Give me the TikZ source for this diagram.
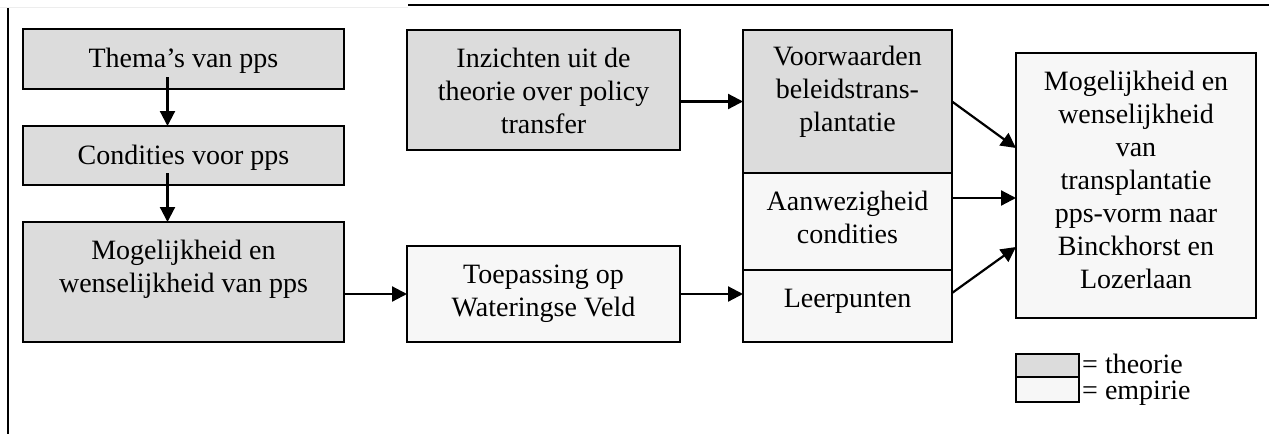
\documentclass[tikz,border=0pt]{standalone}
\usepackage{fontspec}
\setmainfont{Liberation Serif}
\usetikzlibrary{arrows.meta,calc}
\definecolor{theo}{HTML}{DCDCDC}
\definecolor{emp}{HTML}{F7F7F7}
\begin{document}
\begin{tikzpicture}[x=1pt,y=-1pt,
  box/.style={draw=black, line width=2.2pt, inner sep=0pt, outer sep=0pt, anchor=north west},
  gbox/.style={box, fill=theo},
  lbox/.style={box, fill=emp},
  txt/.style={font=\fontsize{28}{33}\selectfont, align=center, anchor=north, inner sep=0pt},
  arr/.style={line width=2.2pt, -{Triangle[length=15pt,width=15pt]}},
  frame/.style={line width=2.2pt}]
\useasboundingbox (0,0) rectangle (1269,434);
% frame lines
\draw[frame] (8,7) -- (8,434);
\draw[frame] (408,5) -- (1269,5);
\draw[line width=1pt, color=black!7] (0,7) -- (408,7);
% boxes
\node[gbox, minimum width=321pt, minimum height=60pt] (b1) at (23,29) {};
\node[gbox, minimum width=321pt, minimum height=59pt] (b2) at (23,126) {};
\node[gbox, minimum width=321pt, minimum height=120pt] (b3) at (23,222) {};
\node[gbox, minimum width=273pt, minimum height=120pt] (inz) at (407,30) {};
\node[lbox, minimum width=273pt, minimum height=96pt] (toe) at (407,246) {};
\node[gbox, minimum width=209pt, minimum height=143pt] (vw) at (743,30) {};
\node[lbox, minimum width=209pt, minimum height=97pt] (aw) at (743,173) {};
\node[lbox, minimum width=209pt, minimum height=72pt] (lp) at (743,270) {};
\node[lbox, minimum width=240pt, minimum height=265pt] (rb) at (1016,53) {};
\node[gbox, minimum width=63pt, minimum height=23pt] (lg1) at (1016,354) {};
\node[lbox, minimum width=63pt, minimum height=25pt] (lg2) at (1016,377) {};
% texts
\node[txt] (t1) at ($(b1.north)+(0,15)$) {\strut Thema’s van pps};
\node[txt] (t2) at ($(b2.north)+(0,15)$) {\strut Condities voor pps};
\node[txt] (t3) at ($(b3.north)+(0,14)$) {\strut Mogelijkheid en\\wenselijkheid van pps};
\node[txt] (t4) at ($(inz.north)+(0,14)$) {\strut Inzichten uit de\\theorie over policy\\transfer};
\node[txt] (t5) at ($(toe.north)+(0,14)$) {\strut Toepassing op\\Wateringse Veld};
\node[txt] (t6) at ($(vw.north)+(0,12)$) {\strut Voorwaarden\\beleidstrans-\\plantatie};
\node[txt] (t7) at ($(aw.north)+(0,14)$) {\strut Aanwezigheid\\condities};
\node[txt] (t8) at ($(lp.north)+(0,14)$) {\strut Leerpunten};
\node[txt] (t9) at ($(rb.north)+(0,14)$) {\strut Mogelijkheid en\\wenselijkheid\\van\\transplantatie\\pps-vorm naar\\Binckhorst en\\Lozerlaan};
\node[txt, anchor=base west] (lt) at ($(lg1.south east)+(3,-4)$) {= theorie};
\node[txt, anchor=base west] (le) at ($(lg2.south east)+(3,-3)$) {= empirie};
% connectors
\draw[arr] ($(b1.south)+(-16,-12)$) -- ($(b2.north)+(-16,0)$);
\draw[arr] ($(b2.south)+(-16,-12)$) -- ($(b3.north)+(-16,0)$);
\draw[arr] (toe.west -| b3.east) -- (toe.west);
\draw[arr] (toe.east) -- (toe.east -| lp.west);
\draw[arr] (vw.west -| inz.east) -- (vw.west);
\draw[arr] (vw.east) -- ($(rb.west)+(0,-37.5)$);
\draw[arr] ($(aw.north east)+(0,25)$) -- ($(rb.west)+(0,12.5)$);
\draw[arr] ($(lp.east)+(0,-13)$) -- ($(rb.west)+(0,61.5)$);
\end{tikzpicture}
\end{document}
